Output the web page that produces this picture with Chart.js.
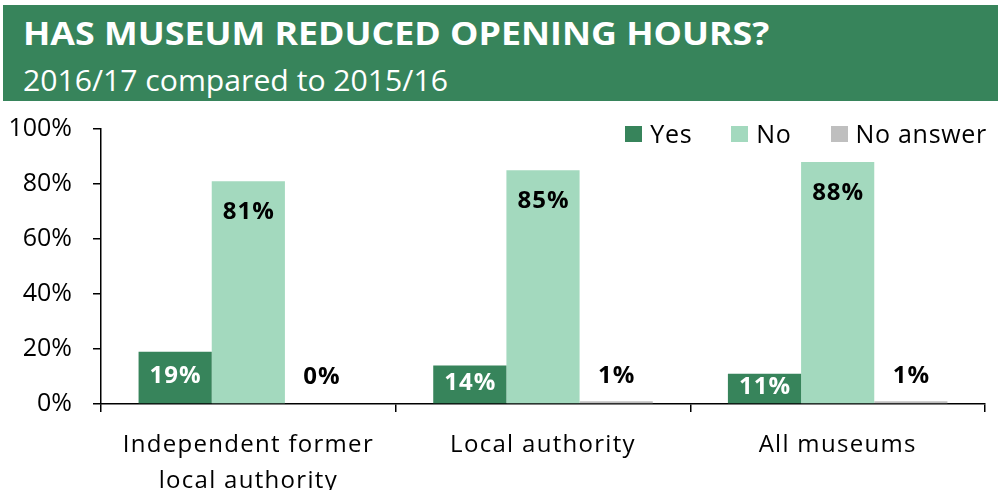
<!DOCTYPE html>
<html>
<head>
<meta charset="utf-8">
<script src="https://cdn.jsdelivr.net/npm/chart.js@4"></script>
<style>
  html, body { margin: 0; padding: 0; background: #fff; }
  body { width: 998px; height: 490px; position: relative; overflow: hidden; font-family: 'Open Sans', sans-serif; }
  #chart { position: absolute; left: 0; top: 0; }
  #header { position: absolute; left: 3px; top: 5px; width: 995px; height: 96px; background: #37845B; }
  #title { position: absolute; left: 20px; top: 12px; font-size: 32.5px; line-height: 32px; font-weight: 700; color: #fff; white-space: nowrap; transform: scaleX(1.1); transform-origin: 0 0; }
  #subtitle { position: absolute; left: 20px; top: 60px; font-size: 29px; line-height: 29px; font-weight: 400; color: #fff; white-space: nowrap; transform: scaleX(1.04); transform-origin: 0 0; }
  #legend { position: absolute; right: 11px; top: 121px; display: flex; gap: 39px; font-size: 25px; line-height: 25px; color: #000; letter-spacing: 0.7px; }
  .item { display: flex; align-items: center; white-space: nowrap; }
  .box { width: 17px; height: 16px; margin-right: 8px; }
</style>
</head>
<body>
<canvas id="chart" width="998" height="490"></canvas>
<div id="header">
  <div id="title">HAS MUSEUM REDUCED OPENING HOURS?</div>
  <div id="subtitle">2016/17 compared to 2015/16</div>
</div>
<div id="legend"></div>
<script>
const categories = [["Independent former", "local authority"], ["Local authority"], ["All museums"]];
const seriesNames = ["Yes", "No", "No answer"];
const yesValues = [19, 14, 11];
const noValues = [81, 85, 88];
const noAnswerValues = [0, 1, 1];
const seriesColors = ["#37845B", "#A3D9BE", "#BFBFBF"];
const labelColors = ["#ffffff", "#000000", "#000000"];
const yTicks = [0, 20, 40, 60, 80, 100];

const FONT = "'Open Sans', sans-serif";

// HTML legend
const legendEl = document.getElementById('legend');
seriesNames.forEach((name, i) => {
  const it = document.createElement('div');
  it.className = 'item';
  const b = document.createElement('div');
  b.className = 'box';
  b.style.background = seriesColors[i];
  const t = document.createElement('span');
  t.textContent = name;
  it.appendChild(b); it.appendChild(t);
  legendEl.appendChild(it);
});

const valueLabels = {
  id: 'valueLabels',
  afterDatasetsDraw(chart) {
    const ctx = chart.ctx;
    ctx.save();
    ctx.font = "700 24px " + FONT;
    ctx.letterSpacing = '1px';
    ctx.textAlign = 'center';
    ctx.textBaseline = 'middle';
    chart.data.datasets.forEach((ds, di) => {
      const meta = chart.getDatasetMeta(di);
      meta.data.forEach((bar, i) => {
        const v = ds.data[i];
        const top = bar.y, base = bar.base;
        let y;
        if (di === 0) y = Math.min((top + base) / 2 - 1, base - 14);
        else if (di === 1) y = top + 31;
        else y = base - 27;
        ctx.fillStyle = labelColors[di];
        ctx.fillText(v + '%', bar.x + 0.5, y);
      });
    });
    ctx.restore();
  }
};

new Chart(document.getElementById('chart'), {
  type: 'bar',
  data: {
    labels: categories,
    datasets: [
      { label: seriesNames[0], data: yesValues, backgroundColor: seriesColors[0] },
      { label: seriesNames[1], data: noValues, backgroundColor: seriesColors[1] },
      { label: seriesNames[2], data: noAnswerValues, backgroundColor: seriesColors[2] }
    ]
  },
  options: {
    responsive: false,
    animation: false,
    events: [],
    layout: { padding: { top: 129, right: 13, bottom: 0, left: 0 } },
    datasets: { bar: { categoryPercentage: 0.745, barPercentage: 1.0, borderWidth: 0 } },
    plugins: { legend: { display: false }, tooltip: { enabled: false }, title: { display: false } },
    scales: {
      x: {
        offset: true,
        grid: { offset: true, drawOnChartArea: false, drawTicks: true, tickLength: 8, color: '#000', lineWidth: 1.5 },
        border: { display: true, color: '#000', width: 1.5 },
        ticks: { color: '#000', font: { family: FONT, size: 24, lineHeight: 1.5 }, padding: 15, maxRotation: 0, autoSkip: false },
        afterFit(s) { s.height = 86; },
        afterUpdate(s) {
          if (!s._lsWrapped) {
            const orig = s.drawLabels;
            s.drawLabels = function (area) {
              const c = this.ctx;
              c.save();
              c.letterSpacing = '1.3px';
              orig.call(this, area);
              c.restore();
            };
            s._lsWrapped = true;
          }
        }
      },
      y: {
        min: 0, max: 100,
        afterBuildTicks(s) { s.ticks = yTicks.map(v => ({ value: v })); },
        grid: { drawOnChartArea: false, drawTicks: true, tickLength: 8, color: '#000', lineWidth: 1.5 },
        border: { display: true, color: '#000', width: 1.5 },
        ticks: { color: '#000', font: { family: FONT, size: 25 }, padding: 21, callback: v => v + '%' },
        afterFit(s) { s.width = 101; }
      }
    }
  },
  plugins: [valueLabels]
});
</script>
</body>
</html>
